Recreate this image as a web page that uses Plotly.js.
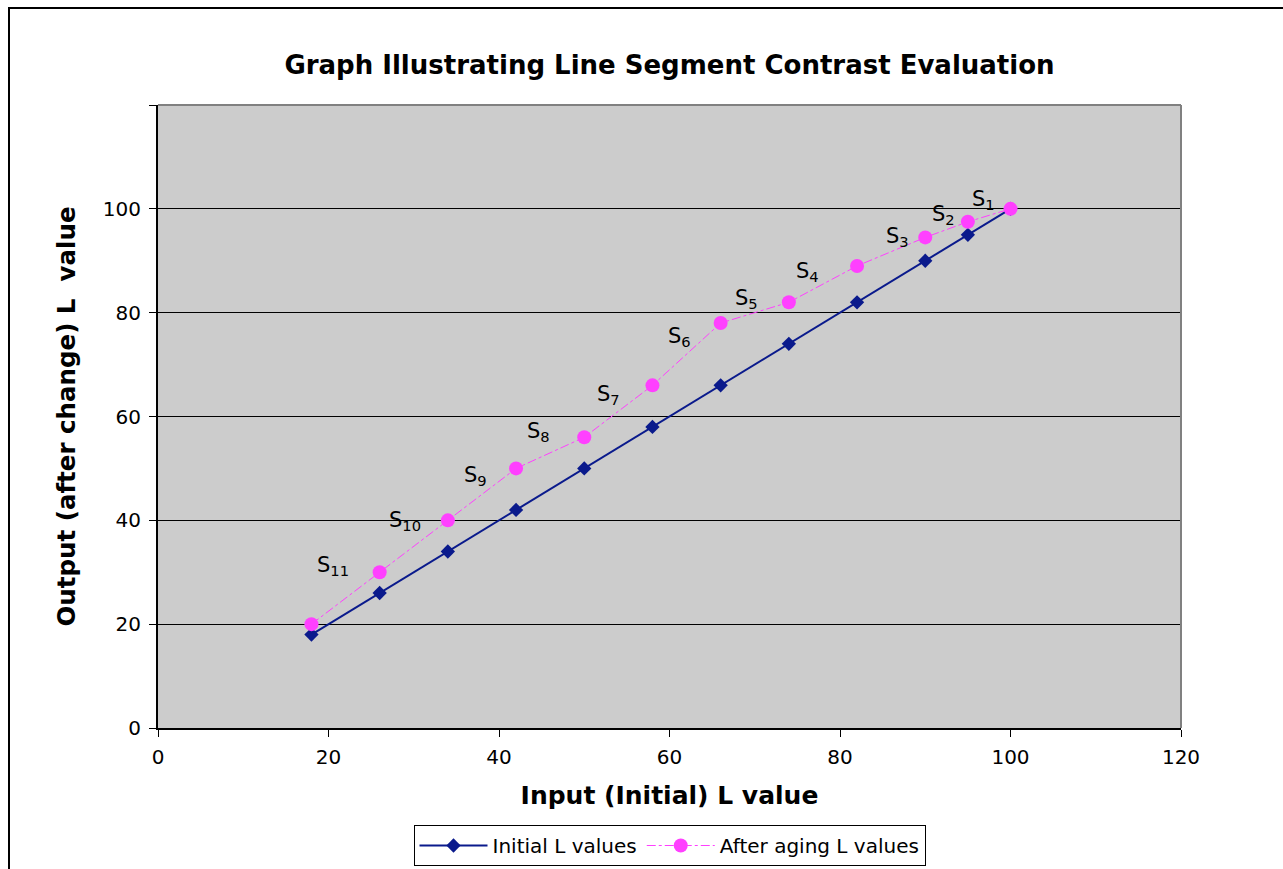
<!DOCTYPE html>
<html>
<head>
<meta charset="utf-8">
<script src="https://cdn.plot.ly/plotly-3.0.1.min.js"></script>
<style>
html,body{margin:0;padding:0;background:#fff;overflow:hidden;}
#frame{position:absolute;left:8px;top:7px;width:1300px;height:900px;border:2px solid #000;box-sizing:border-box;}
#chart{position:absolute;left:0;top:0;width:1283px;height:869px;}
</style>
</head>
<body>
<div id="frame"></div>
<div id="chart"></div>
<script>
const inputL = [18, 26, 34, 42, 50, 58, 66, 74, 82, 90, 95, 100];
const initialL = [18, 26, 34, 42, 50, 58, 66, 74, 82, 90, 95, 100];
const agedL = [20, 30, 40, 50, 56, 66, 78, 82, 89, 94.5, 97.5, 100];
const segLabels = ['S<sub>1</sub>','S<sub>2</sub>','S<sub>3</sub>','S<sub>4</sub>','S<sub>5</sub>','S<sub>6</sub>','S<sub>7</sub>','S<sub>8</sub>','S<sub>9</sub>','S<sub>10</sub>','S<sub>11</sub>'];
const segLabelX = [96.8, 92.1, 86.7, 76.2, 69.0, 61.2, 52.8, 44.6, 37.3, 29.0, 20.5];
const segLabelY = [101.7, 98.8, 94.6, 87.8, 82.6, 75.3, 64.1, 57.1, 48.6, 39.8, 31.3];
const xTicks = [0, 20, 40, 60, 80, 100, 120];
const yTicks = [0, 20, 40, 60, 80, 100, 120];
const yTickText = ['0', '20', '40', '60', '80', '100', ''];

const FONT = 'DejaVu Sans, Verdana, sans-serif';

const traces = [
  {
    x: inputL, y: initialL, type: 'scatter', mode: 'lines+markers',
    name: 'Initial L values',
    line: {color: '#0A1A8C', width: 2},
    marker: {symbol: 'diamond', size: 11, color: '#0A1A8C'}
  },
  {
    x: inputL, y: agedL, type: 'scatter', mode: 'lines+markers',
    name: 'After aging L values',
    line: {color: '#FF40FF', width: 1, dash: 'dashdot'},
    marker: {symbol: 'circle', size: 14, color: '#FF40FF'}
  }
];

const annotations = segLabels.map((t, i) => ({
  x: segLabelX[i], y: segLabelY[i], xref: 'x', yref: 'y',
  text: t, showarrow: false, xanchor: 'center', yanchor: 'middle',
  font: {family: FONT, size: 21, color: '#000'}
}));

const layout = {
  width: 1283, height: 869,
  paper_bgcolor: 'rgba(0,0,0,0)',
  plot_bgcolor: '#CCCCCC',
  margin: {l: 158, r: 102, t: 105, b: 141, autoexpand: false},
  font: {family: FONT, color: '#000'},
  title: {text: '<b>Graph Illustrating Line Segment Contrast Evaluation</b>', font: {family: FONT, size: 26, color: '#000'}, x: 0.5, xref: 'paper', xanchor: 'center', y: 1 - 65/869, yanchor: 'middle'},
  xaxis: {
    range: [0, 120], tickvals: xTicks, ticktext: xTicks.map(String),
    ticks: 'outside', ticklen: 7, tickcolor: '#000', tickwidth: 1,
    ticklabelstandoff: 3,
    showgrid: false, zeroline: false, showline: true, linecolor: '#000', linewidth: 2,
    tickfont: {family: FONT, size: 20, color: '#000'},
    title: {text: '<b>Input (Initial) L value</b>', font: {family: FONT, size: 25, color: '#000'}, standoff: 18},
    fixedrange: true
  },
  yaxis: {
    range: [0, 120], tickvals: yTicks, ticktext: yTickText,
    ticks: 'outside', ticklen: 7, tickcolor: '#000', tickwidth: 1,
    ticklabelstandoff: 4,
    showgrid: true, gridcolor: '#000', gridwidth: 1, zeroline: false,
    showline: true, linecolor: '#000', linewidth: 2,
    tickfont: {family: FONT, size: 20, color: '#000'},
    title: {text: '<b>Output (after change) L  value</b>', font: {family: FONT, size: 24.5, color: '#000'}, standoff: 20},
    fixedrange: true
  },
  shapes: [
    {type: 'line', xref: 'paper', yref: 'paper', x0: 0, x1: 1, y0: 1, y1: 1, line: {color: '#808080', width: 2}},
    {type: 'line', xref: 'paper', yref: 'paper', x0: 1, x1: 1, y0: 0, y1: 1, line: {color: '#808080', width: 2}}
  ],
  annotations: annotations,
  showlegend: true,
  legend: {
    orientation: 'h', x: 0.5, xanchor: 'center', xref: 'paper',
    y: 3/869, yanchor: 'bottom', yref: 'container',
    bgcolor: '#FFFFFF', bordercolor: '#000', borderwidth: 1,
    font: {family: FONT, size: 20, color: '#000'}, itemwidth: 68
  }
};

Plotly.newPlot('chart', traces, layout, {displayModeBar: false, staticPlot: true});
</script>
</body>
</html>
